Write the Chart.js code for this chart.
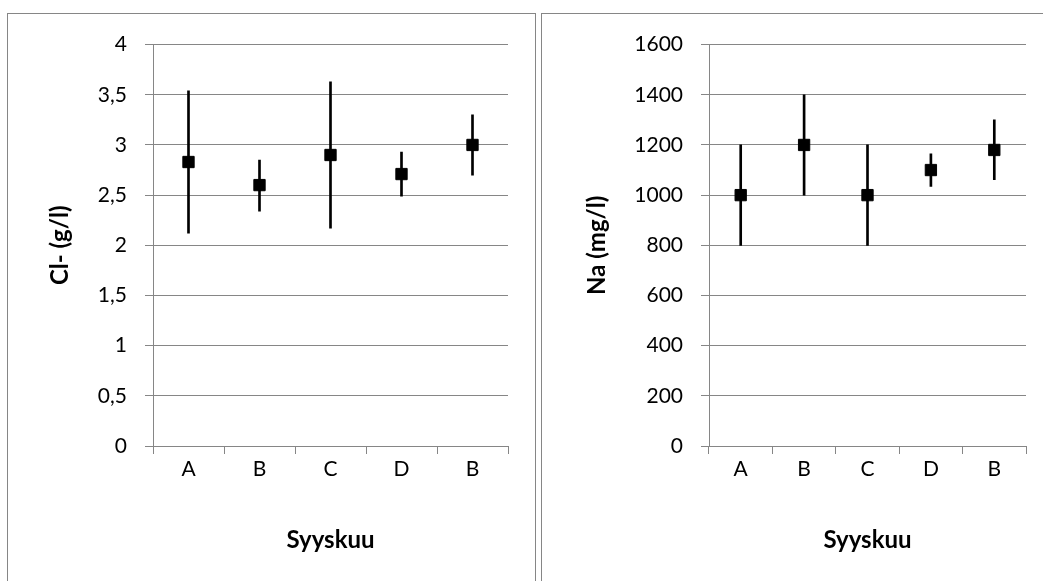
<!DOCTYPE html>
<html>
<head>
<meta charset="utf-8">
<script src="https://cdn.jsdelivr.net/npm/chart.js@4.4.1/dist/chart.umd.min.js"></script>
<style>
  html, body { margin: 0; padding: 0; background: #ffffff; width: 1043px; height: 581px; overflow: hidden; }
  .panel { position: absolute; top: 13px; border: 1px solid #868686; background: #fff; }
  #p1 { left: 7px; width: 527px; height: 600px; }
  #p2 { left: 541px; width: 510px; height: 600px; }
  canvas { display: block; }
</style>
</head>
<body>
<div class="panel" id="p1"><canvas id="c1" width="527" height="567"></canvas></div>
<div class="panel" id="p2"><canvas id="c2" width="501" height="567"></canvas></div>
<script>
const categories = ['A', 'B', 'C', 'D', 'B'];

const clMean = [2.83, 2.60, 2.90, 2.71, 3.00];
const clLow  = [2.12, 2.34, 2.17, 2.49, 2.70];
const clHigh = [3.54, 2.85, 3.63, 2.93, 3.30];
const clTickLabels = ['0', '0,5', '1', '1,5', '2', '2,5', '3', '3,5', '4'];

const naMean = [1000, 1200, 1000, 1100, 1180];
const naLow  = [800, 1000, 800, 1035, 1062];
const naHigh = [1200, 1400, 1200, 1165, 1300];
const naTickLabels = ['0', '200', '400', '600', '800', '1000', '1200', '1400', '1600'];

const xTitle = 'Syyskuu';
const clTitle = 'Cl- (g/l)';
const naTitle = 'Na (mg/l)';

Chart.defaults.font.family = 'Lato, "Open Sans", sans-serif';
Chart.defaults.color = '#000000';

const GRID = '#868686';

function makeChart(canvasId, mean, low, high, tickLabels, yMax, yStep, yTitle, yAxisWidth, padRight, yTitlePad) {
  const ctx = document.getElementById(canvasId).getContext('2d');
  return new Chart(ctx, {
    type: 'bar',
    data: {
      labels: categories,
      datasets: [
        {
          type: 'line',
          data: mean,
          showLine: false,
          pointStyle: 'rect',
          pointRadius: 8,
          pointBorderWidth: 1,
          pointBackgroundColor: '#000000',
          pointBorderColor: '#000000',
          order: 0
        },
        {
          type: 'bar',
          data: low.map((v, i) => [v, high[i]]),
          backgroundColor: '#000000',
          borderWidth: 0,
          barThickness: 2,
          grouped: false,
          order: 1
        }
      ]
    },
    options: {
      responsive: false,
      animation: false,
      events: [],
      layout: { padding: { left: 0, top: 30, right: padRight, bottom: 0 } },
      plugins: { legend: { display: false }, tooltip: { enabled: false } },
      scales: {
        x: {
          type: 'category',
          offset: true,
          grid: { offset: true, drawOnChartArea: false, drawTicks: true, tickLength: 8, color: GRID, lineWidth: 1 },
          border: { display: true, color: GRID, width: 1 },
          ticks: { font: { size: 21 }, padding: 3, color: '#000' },
          title: { display: true, text: xTitle, font: { size: 24, weight: 'bold' }, padding: { top: 0, bottom: 26 }, color: '#000' },
          afterFit: (s) => { s.height = 135; }
        },
        y: {
          min: 0,
          max: yMax,
          ticks: {
            stepSize: yStep,
            font: { size: 21 },
            padding: 18,
            color: '#000',
            callback: (value) => tickLabels[Math.round(value / yStep)]
          },
          grid: { color: GRID, lineWidth: 1, tickLength: 8, drawTicks: true },
          border: { display: true, color: GRID, width: 1 },
          title: { display: true, text: yTitle, font: { size: 24, weight: 'bold' }, padding: { top: yTitlePad, bottom: 0 }, color: '#000' },
          afterFit: (s) => { s.width = yAxisWidth; }
        }
      }
    }
  });
}

makeChart('c1', clMean, clLow, clHigh, clTickLabels, 4, 0.5, clTitle, 145, 27, 38);
makeChart('c2', naMean, naLow, naHigh, naTickLabels, 1600, 200, naTitle, 167, 17, 41);
</script>
</body>
</html>
